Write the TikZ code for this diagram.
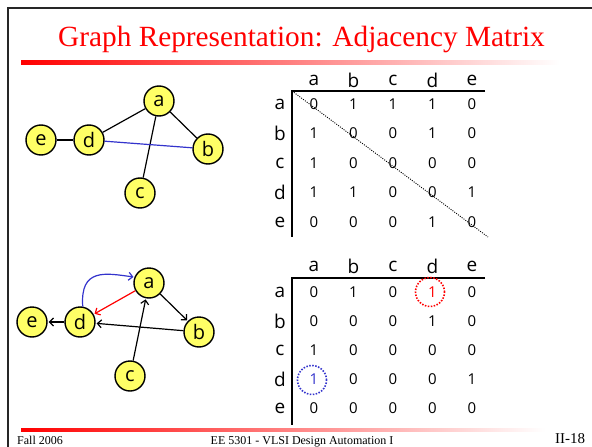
\documentclass[tikz,border=0pt]{standalone}
\usepackage{fontspec}
\setmainfont{Liberation Serif}
\newfontfamily\matfont{Open Sans}
\usetikzlibrary{arrows.meta}
\definecolor{nodeyellow}{RGB}{255,255,102}
\definecolor{edgeblue}{RGB}{51,51,204}
\tikzset{
  vtx/.style={circle, draw=black, line width=1.4pt, fill=nodeyellow, minimum size=30pt, inner sep=0pt, font=\matfont\fontsize{20}{20}\selectfont},
  edge/.style={line width=1.2pt},
  arr/.style={line width=1.2pt, -{Straight Barb[length=4pt,width=8pt,line width=1.2pt]}, shorten >=1pt},
  lbl/.style={font=\matfont\fontsize{19}{19}\selectfont, inner sep=0pt},
  num/.style={font=\matfont\fontsize{15}{15}\selectfont, inner sep=0pt},
  axis/.style={line width=1.5pt},
  hilite/.style={circle, line width=1.6pt, dash pattern=on 1.5pt off 1.5pt, minimum size=29pt, inner sep=0pt}
}
\begin{document}
\begin{tikzpicture}[x=1pt,y=-1pt]
\useasboundingbox (0,0) rectangle (592,447);
\clip (0,0) rectangle (592,447);
% frame
\draw[line width=2.5pt, black!85] (8,460) -- (8,8) -- (610,8);
% title
\node[anchor=base, text=red, font=\fontsize{29.3}{29.3}\selectfont, inner sep=0pt] (title) at (301.5,46) {Graph Representation: Adjacency Matrix};
\shade[left color=red, right color=white] (21,60) rectangle (560,64);
\shade[left color=red, right color=white] (21,428) rectangle (545,431);
% footer
\node[anchor=base west, font=\fontsize{12}{12}\selectfont, inner sep=0pt] (f1) at (17,444) {Fall 2006};
\node[anchor=base, font=\fontsize{12}{12}\selectfont, inner sep=0pt] (f2) at (302,444) {EE 5301 - VLSI Design Automation I};
\node[anchor=base west, font=\fontsize{15}{15}\selectfont, inner sep=0pt] (f3) at (555,443) {II-18};

% ---------- graph 1 ----------
\node[vtx] (a1) at (159,101) {a};
\node[vtx] (e1) at (41,140) {e};
\node[vtx] (d1) at (89,140) {d};
\node[vtx] (b1) at (208,149) {b};
\node[vtx] (c1) at (140,193) {c};
\draw[edge] (e1) -- (d1);
\draw[edge] (d1) -- (a1);
\draw[edge] (a1) -- (b1);
\draw[edge] (a1) -- (c1);
\draw[edge, edgeblue] (d1) -- (b1);

% ---------- graph 2 ----------
\node[vtx] (a2) at (149,283) {a};
\node[vtx] (e2) at (32,322) {e};
\node[vtx] (d2) at (80,322) {d};
\node[vtx] (b2) at (199,332) {b};
\node[vtx] (c2) at (130,376) {c};
\draw[arr] (d2) -- (e2);
\draw[arr] (a2) -- (b2);
\draw[arr] (c2) -- (a2);
\draw[arr] (b2) -- (d2);
\draw[arr, red] (a2) -- (d2);
\draw[arr, edgeblue] (d2.80) .. controls (80,268) and (105,273) .. (a2.158);

% ---------- labels ----------
\foreach \l [count=\i] in {a,b,c,d,e} {
  \pgfmathsetmacro{\cx}{314+39.5*(\i-1)}
  \pgfmathsetmacro{\ry}{104+29.5*(\i-1)}
  \node[lbl] (m1c\i) at (\cx,80) {\l};
  \node[lbl] (m1r\i) at (280,\ry) {\l};
  \node[lbl] (m2c\i) at (\cx,266) {\l};
  \pgfmathsetmacro{\ryb}{292+29*(\i-1)}
  \node[lbl] (m2r\i) at (280,\ryb) {\l};
}
% ---------- matrix 1 ----------
\foreach \row [count=\i] in {{0,1,1,1,0},{1,0,0,1,0},{1,0,0,0,0},{1,1,0,0,1},{0,0,0,1,0}} {
  \foreach \v [count=\j] in \row {
    \pgfmathsetmacro{\cx}{314+39.5*(\j-1)}
    \pgfmathsetmacro{\ry}{104+29.5*(\i-1)}
    \node[num] (m1-\i-\j) at (\cx,\ry) {\v};
  }
}
\coordinate (m1corner) at (292,91);
\coordinate (m1hend) at (485,91);
\coordinate (m1vend) at (292,237);
\coordinate (m1diag) at (488,237);
\draw[axis] (m1hend) -- (m1corner) -- (m1vend);
\draw[line width=0.9pt, dash pattern=on 1pt off 1.3pt] (m1corner) -- (m1diag);

% ---------- matrix 2 ----------
\foreach \row [count=\i] in {{0,1,0,\textcolor{red}{1},0},{0,0,0,1,0},{1,0,0,0,0},{\textcolor{edgeblue}{1},0,0,0,1},{0,0,0,0,0}} {
  \foreach \v [count=\j] in \row {
    \pgfmathsetmacro{\cx}{314+39.5*(\j-1)}
    \pgfmathsetmacro{\ry}{292+29*(\i-1)}
    \node[num] (m2-\i-\j) at (\cx,\ry) {\v};
  }
}
\coordinate (m2corner) at (292,278);
\coordinate (m2hend) at (485,278);
\coordinate (m2vend) at (292,425);
\draw[axis] (m2hend) -- (m2corner) -- (m2vend);
\node[hilite, draw=red] (h1) at (430,292) {};
\node[hilite, draw=edgeblue] (h2) at (312,380) {};
\end{tikzpicture}
\end{document}
